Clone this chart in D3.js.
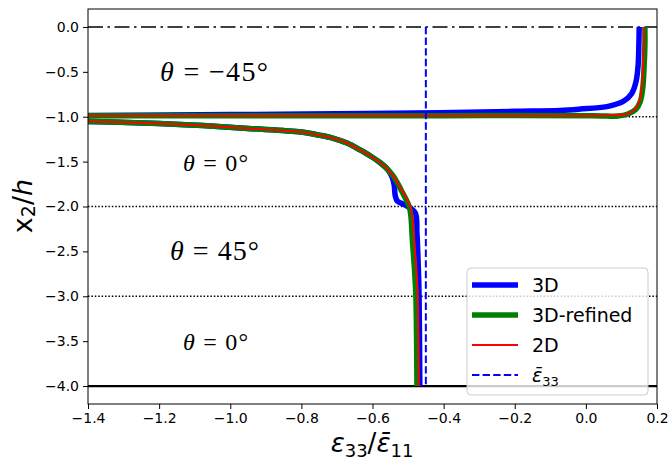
<!DOCTYPE html>
<html>
<head>
<meta charset="utf-8">
<script src="https://cdn.jsdelivr.net/npm/d3@7"></script>
<style>
  body { margin: 0; background: #fff; }
  svg { display: block; }
</style>
</head>
<body>
<svg id="chart"></svg>
<script>
/* values, each profile runs from the top
   face (x2/h = 0) down to the bottom face (x2/h = -4) */

// 3D
var x3D = [0.150, 0.149, 0.147, 0.141, 0.129, 0.105, 0.059, -0.016, -0.073, -0.2, -0.41, -0.7, -1.0, -1.4, -1.6,
           -1.6, -1.4, -1.2, -1.077, -0.95, -0.8, -0.75, -0.71, -0.67, -0.635, -0.605, -0.579, -0.558, -0.545, -0.539, -0.536, -0.53, -0.505, -0.48, -0.475, -0.471, -0.469, -0.467];
var y3D = [0.0, -0.2, -0.42, -0.61, -0.74, -0.83, -0.887, -0.915, -0.93, -0.94, -0.955, -0.968, -0.976, -0.985, -0.987,
           -1.045, -1.053, -1.075, -1.098, -1.13, -1.17, -1.205, -1.24, -1.295, -1.37, -1.44, -1.51, -1.585, -1.67, -1.76, -1.88, -1.94, -1.99, -2.07, -2.3, -2.7, -3.0, -4.0];

// 3D-refined
var xRef = [0.166, 0.166, 0.164, 0.160, 0.153, 0.140, 0.118, 0.09, 0.06, 0.02, -0.4, -1.0, -1.4, -1.6,
            -1.6, -1.4, -1.2, -1.077, -0.95, -0.8, -0.75, -0.71, -0.67, -0.635, -0.605, -0.579, -0.558, -0.541, -0.515, -0.497, -0.492, -0.488, -0.482, -0.478, -0.476, -0.475];
var yRef = [0.0, -0.2, -0.42, -0.68, -0.83, -0.92, -0.97, -0.993, -0.993, -0.988, -0.988, -0.99, -0.99, -0.99,
            -1.045, -1.053, -1.075, -1.098, -1.13, -1.17, -1.205, -1.24, -1.295, -1.37, -1.44, -1.51, -1.585, -1.665, -1.85, -2.0, -2.11, -2.37, -2.7, -3.0, -3.5, -4.0];

// 2D
var x2D = [0.163, 0.163, 0.161, 0.157, 0.150, 0.138, 0.115, 0.06, 0.02, -0.4, -1.0, -1.4, -1.6,
           -1.6, -1.4, -1.2, -1.077, -0.95, -0.8, -0.75, -0.71, -0.67, -0.635, -0.605, -0.579, -0.558, -0.541, -0.513, -0.494, -0.488, -0.483, -0.477, -0.473, -0.471, -0.470];
var y2D = [0.0, -0.2, -0.42, -0.68, -0.83, -0.92, -0.97, -0.985, -0.988, -0.99, -0.99, -0.99, -0.99,
           -1.045, -1.053, -1.075, -1.098, -1.13, -1.17, -1.205, -1.24, -1.295, -1.37, -1.44, -1.51, -1.585, -1.665, -1.85, -2.0, -2.11, -2.37, -2.7, -3.0, -3.5, -4.0];

// mean strain (vertical dashed line)
var epsBar33 = -0.45;

// layer interfaces and their line styles
var interfaces = [0.0, -1.0, -2.0, -3.0, -4.0];
var interfaceStyle = ["dashdot", "dotted", "dotted", "dotted", "solid"];

// layer labels
var layerLabels = ["\u2212" + "45\u00B0", "0\u00B0", "45\u00B0", "0\u00B0"];
var layerLabelY = [-0.5, -1.5, -2.5, -3.5];

var xTicks = [-1.4, -1.2, -1.0, -0.8, -0.6, -0.4, -0.2, 0.0, 0.2];
var yTicks = [0.0, -0.5, -1.0, -1.5, -2.0, -2.5, -3.0, -3.5, -4.0];

var legendNames = ["3D", "3D-refined", "2D"];

/* size of the svg and the plot box */
var svgWidth = 670, svgHeight = 464;
var padLeft = 88, padRight = 657, padTop = 9, padBottom = 404;

var svg = d3.select("#chart")
    .attr("width", svgWidth)
    .attr("height", svgHeight);

var x = d3.scaleLinear().domain([-1.4, 0.2]).range([padLeft, padRight]);
var y = d3.scaleLinear().domain([0.2, -4.2]).range([padTop, padBottom]);

function fmt(d) {
    return d3.format(".1f")(d).replace("-", "\u2212");
}

svg.append("clipPath").attr("id", "plotclip")
  .append("rect")
    .attr("x", padLeft).attr("y", padTop)
    .attr("width", padRight - padLeft).attr("height", padBottom - padTop);

var plot = svg.append("g").attr("clip-path", "url(#plotclip)");

// horizontal lines at the layer interfaces
var dashes = { dashdot: "15,4.5,2.5,4.5", dotted: "1.5,1.9", solid: null };
plot.selectAll("line.iface")
    .data(interfaces)
    .enter()
    .append("line")
    .attr("class", "iface")
    .attr("x1", padLeft).attr("x2", padRight)
    .attr("y1", function(d) { return y(d); })
    .attr("y2", function(d) { return y(d); })
    .attr("stroke", "#000")
    .attr("stroke-width", function(d, i) { return interfaceStyle[i] == "solid" ? 2.2 : 1.6; })
    .attr("stroke-dasharray", function(d, i) { return dashes[interfaceStyle[i]]; });

// the three strain profiles
var series = [
    { xs: x3D, ys: y3D, color: "#0000ff", width: 5.5 },
    { xs: xRef, ys: yRef, color: "#008000", width: 5.5 },
    { xs: x2D, ys: y2D, color: "#ff0000", width: 2 }
];

// the jump between the first two layers lies outside the plot (left of -1.4),
// so the path is broken there to keep the smoothing from bending the ends
function points(s) {
    var pts = [];
    for (var i = 0; i < s.xs.length; i++) {
        if (i > 0 && s.xs[i] == s.xs[i - 1] && s.xs[i] < -1.4) pts.push(null);
        pts.push([s.xs[i], s.ys[i]]);
    }
    return pts;
}

var line = d3.line()
    .defined(function(d) { return d != null; })
    .x(function(d) { return x(d[0]); })
    .y(function(d) { return y(d[1]); })
    .curve(d3.curveCatmullRom.alpha(0.5));

plot.selectAll("path.profile")
    .data(series)
    .enter()
    .append("path")
    .attr("class", "profile")
    .attr("d", function(s) { return line(points(s)); })
    .attr("fill", "none")
    .attr("stroke", function(s) { return s.color; })
    .attr("stroke-width", function(s) { return s.width; })
    .attr("stroke-linejoin", "round");

// mean value of eps33
plot.append("line")
    .attr("x1", x(epsBar33)).attr("x2", x(epsBar33))
    .attr("y1", y(0)).attr("y2", y(-4))
    .attr("stroke", "#0000ff")
    .attr("stroke-width", 2)
    .attr("stroke-dasharray", "7.4,3.2");

// layer labels
var labelX = [160, 183, 170, 183];
var labelSize = [28, 24, 28, 24];
var labelLen = [108, 65, 89, 65];
layerLabels.forEach(function(t, i) {
    var txt = svg.append("text")
        .attr("x", labelX[i])
        .attr("y", y(layerLabelY[i]) + 9)
        .attr("font-family", "'Liberation Serif', 'Times New Roman', serif")
        .attr("font-size", labelSize[i])
        .attr("textLength", labelLen[i])
        .attr("lengthAdjust", "spacing");
    txt.append("tspan").attr("font-style", "italic").text("\u03B8");
    txt.append("tspan").text(" = " + t);
});

// axes
svg.append("g")
    .attr("transform", "translate(0," + padBottom + ")")
    .call(d3.axisBottom(x).tickValues(xTicks).tickFormat(fmt).tickSizeOuter(0).tickSize(5).tickPadding(4));
svg.append("g")
    .attr("transform", "translate(" + padLeft + ",0)")
    .call(d3.axisLeft(y).tickValues(yTicks).tickFormat(fmt).tickSizeOuter(0).tickSize(5).tickPadding(4));

svg.selectAll(".tick text")
    .attr("font-family", "'DejaVu Sans', sans-serif")
    .attr("font-size", 14)
    .attr("fill", "#000");
svg.selectAll(".tick line").attr("stroke", "#000");
svg.selectAll(".domain").remove();

// frame
svg.append("rect")
    .attr("x", padLeft).attr("y", padTop)
    .attr("width", padRight - padLeft).attr("height", padBottom - padTop)
    .attr("fill", "none")
    .attr("stroke", "#000")
    .attr("stroke-width", 1);

// axis titles
var xt = svg.append("text")
    .attr("x", 372).attr("y", 452)
    .attr("text-anchor", "middle")
    .attr("font-family", "'DejaVu Sans', sans-serif")
    .attr("font-size", 26);
xt.append("tspan").attr("font-style", "italic").text("\u03B5");
xt.append("tspan").attr("font-size", 18).attr("dy", 5).text("33");
xt.append("tspan").attr("dy", -5).text("/");
xt.append("tspan").attr("font-style", "italic").text("\u03B5\u0304");
xt.append("tspan").attr("font-size", 18).attr("dy", 5).text("11");

var yt = svg.append("text")
    .attr("transform", "translate(32,206) rotate(-90)")
    .attr("text-anchor", "middle")
    .attr("font-family", "'DejaVu Sans', sans-serif")
    .attr("font-size", 27);
yt.append("tspan").text("x");
yt.append("tspan").attr("font-size", 19).attr("dy", 3).text("2");
yt.append("tspan").attr("dy", -3).text("/");
yt.append("tspan").attr("font-style", "italic").text("h");

// legend
var legend = svg.append("g");
legend.append("rect")
    .attr("x", 467).attr("y", 268)
    .attr("width", 181).attr("height", 127)
    .attr("rx", 4)
    .attr("fill", "#fff")
    .attr("fill-opacity", 0.8)
    .attr("stroke", "#cccccc");

var rowY = [285, 315, 345, 375];
var legendItems = series.map(function(s, i) {
    return { name: legendNames[i], color: s.color, width: s.width, dash: null };
});
legendItems.push({ name: null, color: "#0000ff", width: 2, dash: "7.4,3.2" });

legend.selectAll("line.key")
    .data(legendItems)
    .enter()
    .append("line")
    .attr("class", "key")
    .attr("x1", 472).attr("x2", 518)
    .attr("y1", function(d, i) { return rowY[i]; })
    .attr("y2", function(d, i) { return rowY[i]; })
    .attr("stroke", function(d) { return d.color; })
    .attr("stroke-width", function(d) { return d.width; })
    .attr("stroke-dasharray", function(d) { return d.dash; });

legendItems.forEach(function(d, i) {
    var t = legend.append("text")
        .attr("x", 532).attr("y", rowY[i] + 7)
        .attr("font-family", "'DejaVu Sans', sans-serif")
        .attr("font-size", 19);
    if (d.name) {
        t.text(d.name);
    } else {
        t.append("tspan").attr("font-style", "italic").text("\u03B5\u0304");
        t.append("tspan").attr("font-size", 13).attr("dy", 4).text("33");
    }
});
</script>
</body>
</html>
